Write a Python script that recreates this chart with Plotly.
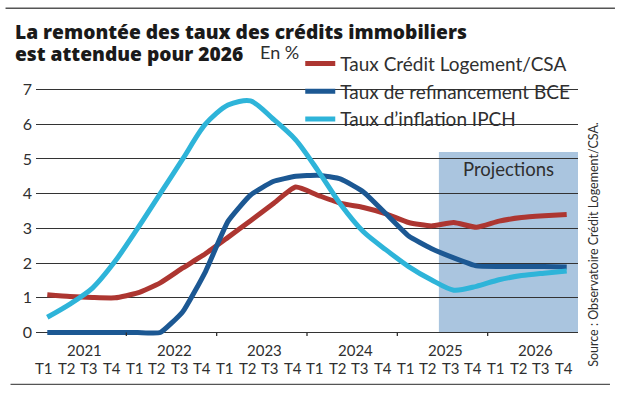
import plotly.graph_objects as go

# ---- data -------------------------------------------------------------
years = ["2021", "2022", "2023", "2024", "2025", "2026"]
quarters = ["T1", "T2", "T3", "T4"]

credit_logement = [1.09, 1.04, 1.01, 1.00, 1.14, 1.43, 1.86, 2.27,
                   2.74, 3.22, 3.71, 4.19, 3.95, 3.72, 3.60, 3.42,
                   3.17, 3.07, 3.17, 3.03, 3.21, 3.31, 3.36, 3.40]
bce = [0.0, 0.0, 0.0, 0.0, 0.0, 0.0, 0.60, 1.75,
       3.20, 3.96, 4.35, 4.50, 4.53, 4.42, 4.05, 3.42,
       2.78, 2.42, 2.15, 1.92, 1.90, 1.90, 1.90, 1.89]
ipch = [0.44, 0.82, 1.28, 2.05, 3.00, 4.00, 5.00, 6.00,
        6.55, 6.67, 6.15, 5.55, 4.65, 3.68, 2.90, 2.38,
        1.90, 1.52, 1.22, 1.33, 1.52, 1.64, 1.71, 1.77]

projection_start = 2025.46
projection_top = 5.2

title_l1 = "La remontée des taux des crédits immobiliers"
title_l2 = "est attendue pour 2026"
unit = "En %"
source = "Source : Observatoire Crédit Logement/CSA."

# ---- layout geometry (pixels) -------------------------------------------
W, H = 620, 397
ML, MR, MT, MB = 35.5, 42, 85.5, 60.5
PW, PH = W - ML - MR, H - MT - MB


def px(xp):
    return (xp - ML) / PW


def py(yp):
    return (H - MB - yp) / PH


x = [int(y) + (q + 0.5) / 4 for y in years for q in range(4)]

RED = "#AD3631"
DBLUE = "#1C5893"
LBLUE = "#2EB4D9"
PROJ = "#AAC5DF"
TXT = "#2f2f2f"
FONT = "Lato, Open Sans, sans-serif"
TFONT = "Open Sans, Lato, sans-serif"

fig = go.Figure()
fig.add_trace(go.Scatter(x=x, y=credit_logement, mode="lines", name="Taux Crédit Logement/CSA",
                         line=dict(color=RED, width=5, shape="spline", smoothing=0.5)))
fig.add_trace(go.Scatter(x=x, y=bce, mode="lines", name="Taux de refinancement BCE",
                         line=dict(color=DBLUE, width=5, shape="spline", smoothing=0.4)))
fig.add_trace(go.Scatter(x=x, y=ipch, mode="lines", name="Taux d’inflation IPCH",
                         line=dict(color=LBLUE, width=5, shape="spline", smoothing=0.8)))

# projection area
fig.add_shape(type="rect", xref="x", yref="y", x0=projection_start, x1=2027,
              y0=0, y1=projection_top, fillcolor=PROJ, line_width=0, layer="below")
fig.add_annotation(x=(projection_start + 2027) / 2, y=projection_top, xref="x", yref="y",
                   text="Projections", showarrow=False, yanchor="top", yshift=-4,
                   font=dict(family=FONT, size=18.5, color=TXT))

# year boundary ticks
for yb in range(2022, 2027):
    fig.add_shape(type="line", xref="x", yref="y", x0=yb, x1=yb, ysizemode="pixel",
                  yanchor=0, y0=0, y1=-9, line=dict(color=TXT, width=1.3))

# x labels
for yl in years:
    fig.add_annotation(x=int(yl) + 0.5, y=0, xref="x", yref="y", text=yl, showarrow=False,
                       yanchor="middle", yshift=-17, xshift=3,
                       font=dict(family=FONT, size=15, color=TXT))
    for q, ql in enumerate(quarters):
        fig.add_annotation(x=int(yl) + (q + 0.5) / 4, y=0, xref="x", yref="y", text=ql,
                           showarrow=False, yanchor="middle", yshift=-35, xshift=-3,
                           font=dict(family=FONT, size=15, color=TXT))

# titles
fig.add_annotation(x=px(12), y=py(30.5), xref="paper", yref="paper", text=title_l1,
                   showarrow=False, xanchor="left", yanchor="middle",
                   font=dict(family=TFONT, size=19.2, color="#1a1a1a", weight=800))
fig.add_annotation(x=px(12), y=py(52.5), xref="paper", yref="paper",
                   text=title_l2, showarrow=False, xanchor="left", yanchor="middle",
                   font=dict(family=TFONT, size=19.2, color="#1a1a1a", weight=800))
fig.add_annotation(x=px(258), y=py(51.7), xref="paper", yref="paper",
                   text=unit, showarrow=False, xanchor="left", yanchor="middle",
                   font=dict(family=FONT, size=18, color=TXT))
fig.add_annotation(x=px(594), y=py(244), xref="paper", yref="paper",
                   text=source, showarrow=False, textangle=-90, xanchor="center", yanchor="middle",
                   font=dict(family=FONT, size=12.5, color=TXT))

# rules
fig.add_shape(type="line", xref="paper", yref="paper", x0=px(5), x1=px(615),
              y0=py(7.5), y1=py(7.5), line=dict(color="#555", width=1.5))
fig.add_shape(type="line", xref="paper", yref="paper", x0=px(10), x1=px(610),
              y0=py(385), y1=py(385), line=dict(color="#555", width=1.2))

fig.update_layout(
    width=W, height=H,
    margin=dict(l=ML, r=MR, t=MT, b=MB),
    paper_bgcolor="white", plot_bgcolor="white",
    showlegend=True,
    legend=dict(x=px(300), y=py(44),
                xanchor="left", yanchor="top", font=dict(family=FONT, size=19, color=TXT),
                bgcolor="rgba(0,0,0,0)", tracegroupgap=0, itemwidth=30),
    xaxis=dict(range=[2021, 2027], showgrid=False, zeroline=False, showticklabels=False,
               ticks="", showline=False, fixedrange=True),
    yaxis=dict(range=[-0.1, 7.1], tickvals=list(range(8)), showgrid=True, gridcolor="#333",
               gridwidth=1.3, zeroline=False, ticks="", showline=False, fixedrange=True,
               tickfont=dict(family=FONT, size=16, color=TXT), ticklabelstandoff=3),
)

fig.write_html("out.html", config={"displayModeBar": False},
               post_script="document.body.style.margin='0';")
